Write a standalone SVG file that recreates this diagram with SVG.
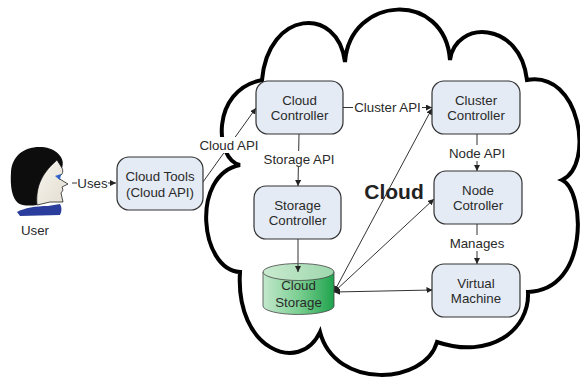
<svg xmlns="http://www.w3.org/2000/svg" width="580" height="379" viewBox="0 0 580 379">
  <style>
    .box { fill: #e4ebf5; stroke: #333; stroke-width: 1.2; }
    .t { font-family: "Liberation Sans", Arial, sans-serif; font-size: 13.3px; fill: #2a2a2a; text-anchor: middle; }
    .conn { stroke: #333; stroke-width: 1; fill: none; }
    .bg { fill: #fff; }
  </style>
  <defs>
    <marker id="arr" viewBox="0 0 6 6" markerWidth="6" markerHeight="6" refX="6" refY="3" orient="auto-start-reverse" markerUnits="userSpaceOnUse">
      <path d="M0,0 L6,3 L0,6 Z" fill="#222"/>
    </marker>
    <linearGradient id="cyl" x1="0" y1="0" x2="1" y2="0">
      <stop offset="0" stop-color="#c4e8cd"/>
      <stop offset="0.5" stop-color="#7ccf92"/>
      <stop offset="1" stop-color="#1fa34d"/>
    </linearGradient>
    <linearGradient id="cyltop" x1="0" y1="0" x2="1" y2="0">
      <stop offset="0" stop-color="#c9eacf"/>
      <stop offset="1" stop-color="#9ed7ad"/>
    </linearGradient>
    <linearGradient id="face" x1="0" y1="0" x2="1" y2="1">
      <stop offset="0" stop-color="#f7f5ef"/>
      <stop offset="1" stop-color="#e2ddd0"/>
    </linearGradient>
  </defs>

  <!-- cloud outline -->
  <path id="cloud" d="M262,80 C268,10 338,5 345,62 C350,-5 445,-10 450,60 C455,20 520,20 527,80 C580,70 595,165 562,180 C585,190 590,290 528,292 C530,330 490,360 437,342 C425,385 335,390 320,332 C300,375 235,350 240,272 C200,270 190,175 240,165 C215,160 210,90 262,80 Z" fill="#fff" stroke="#000" stroke-width="4" stroke-linejoin="miter"/>

  <text class="t" x="394" y="199" style="font-size:21px;font-weight:bold;fill:#222">Cloud</text>

  <!-- connectors -->
  <g id="connectors">
    <line class="conn" x1="72" y1="183" x2="116" y2="183" marker-end="url(#arr)"/>
    <line class="conn" x1="203" y1="182" x2="256" y2="108" marker-end="url(#arr)"/>
    <line class="conn" x1="343" y1="107.5" x2="432" y2="107.5" marker-end="url(#arr)"/>
    <line class="conn" x1="299" y1="134" x2="298" y2="186" marker-end="url(#arr)"/>
    <line class="conn" x1="477" y1="134" x2="477" y2="171" marker-end="url(#arr)"/>
    <line class="conn" x1="477" y1="224" x2="477" y2="264" marker-end="url(#arr)"/>
    <line class="conn" x1="298" y1="239" x2="298" y2="272" marker-end="url(#arr)"/>
    <line class="conn" x1="334" y1="292" x2="432" y2="108.5" marker-start="url(#arr)" marker-end="url(#arr)"/>
    <line class="conn" x1="334" y1="292" x2="434" y2="199" marker-start="url(#arr)" marker-end="url(#arr)"/>
    <line class="conn" x1="334" y1="292" x2="432.5" y2="290" marker-start="url(#arr)" marker-end="url(#arr)"/>

    <!-- connector labels -->
    <rect class="bg" x="77" y="176" width="31" height="15"/>
    <text class="t" x="92.5" y="188">Uses</text>
    <rect class="bg" x="199" y="137" width="60" height="16"/>
    <text class="t" x="229" y="150">Cloud API</text>
    <rect class="bg" x="353" y="100" width="69" height="15"/>
    <text class="t" x="387.5" y="112">Cluster API</text>
    <rect class="bg" x="263" y="151" width="72" height="16"/>
    <text class="t" x="299" y="164">Storage API</text>
    <rect class="bg" x="447" y="145" width="60" height="16"/>
    <text class="t" x="477" y="158">Node API</text>
    <rect class="bg" x="450" y="235" width="55" height="16"/>
    <text class="t" x="477" y="248">Manages</text>
  </g>

  <!-- user -->
  <g id="user">
    <path d="M37,205 C36,195 38,186 41,180 C44,174 47,169 57,160 L62,168 C63,170 63,172 62,174 L58,178 L68,184 L62,187 L63,190 L61,193 L63,202 L50,202 Z" fill="url(#face)" stroke="#222" stroke-width="0.8"/>
    <path d="M62,168 C66,158 56,148 42,147 C24,146 12,156 11,172 C10,186 12,198 18,203 C22,206 30,206 37,205 C36,195 38,186 41,180 C44,174 47,169 57,160 Z" fill="#0d0d0d"/>
    <path d="M55,176 L61,174 L60,180 Z" fill="#2f62c8"/>
    <path d="M17,212 C24,208 36,206 48,206 L60,204 C62,207 62,211 60,215 L20,216 Z" fill="#2a3d9c"/>
    <text class="t" x="35" y="235">User</text>
  </g>

  <g id="cloud-tools">
    <rect class="box" x="117" y="157" width="86" height="53" rx="12"/>
    <text class="t" x="160" y="181">Cloud Tools</text>
    <text class="t" x="160" y="196.5">(Cloud API)</text>
  </g>

  <g id="cloud-controller">
    <rect class="box" x="256" y="81" width="87" height="53" rx="12"/>
    <text class="t" x="299.5" y="104.5">Cloud</text>
    <text class="t" x="299.5" y="120">Controller</text>
  </g>

  <g id="cluster-controller">
    <rect class="box" x="432" y="81" width="88" height="53" rx="12"/>
    <text class="t" x="476" y="104.5">Cluster</text>
    <text class="t" x="476" y="120">Controller</text>
  </g>

  <g id="storage-controller">
    <rect class="box" x="254" y="186" width="87" height="53" rx="12"/>
    <text class="t" x="297.5" y="209.5">Storage</text>
    <text class="t" x="297.5" y="225">Controller</text>
  </g>

  <g id="node-controller">
    <rect class="box" x="434" y="171" width="88" height="53" rx="12"/>
    <text class="t" x="478" y="194.5">Node</text>
    <text class="t" x="478" y="210">Cotroller</text>
  </g>

  <g id="virtual-machine">
    <rect class="box" x="432" y="264" width="88" height="53" rx="12"/>
    <text class="t" x="476" y="287.5">Virtual</text>
    <text class="t" x="476" y="303">Machine</text>
  </g>

  <g id="cloud-storage">
    <path d="M263,272 L263,306 A35.5,8.5 0 0 0 334,306 L334,272 Z" fill="url(#cyl)" stroke="#444" stroke-width="0.8"/>
    <ellipse cx="298.5" cy="272" rx="35.5" ry="8.5" fill="url(#cyltop)" stroke="#444" stroke-width="0.8"/>
    <text class="t" x="298.5" y="290">Cloud</text>
    <text class="t" x="298.5" y="306.5">Storage</text>
    <line class="conn" x1="298" y1="264" x2="298" y2="272" marker-end="url(#arr)"/>
  </g>
</svg>
